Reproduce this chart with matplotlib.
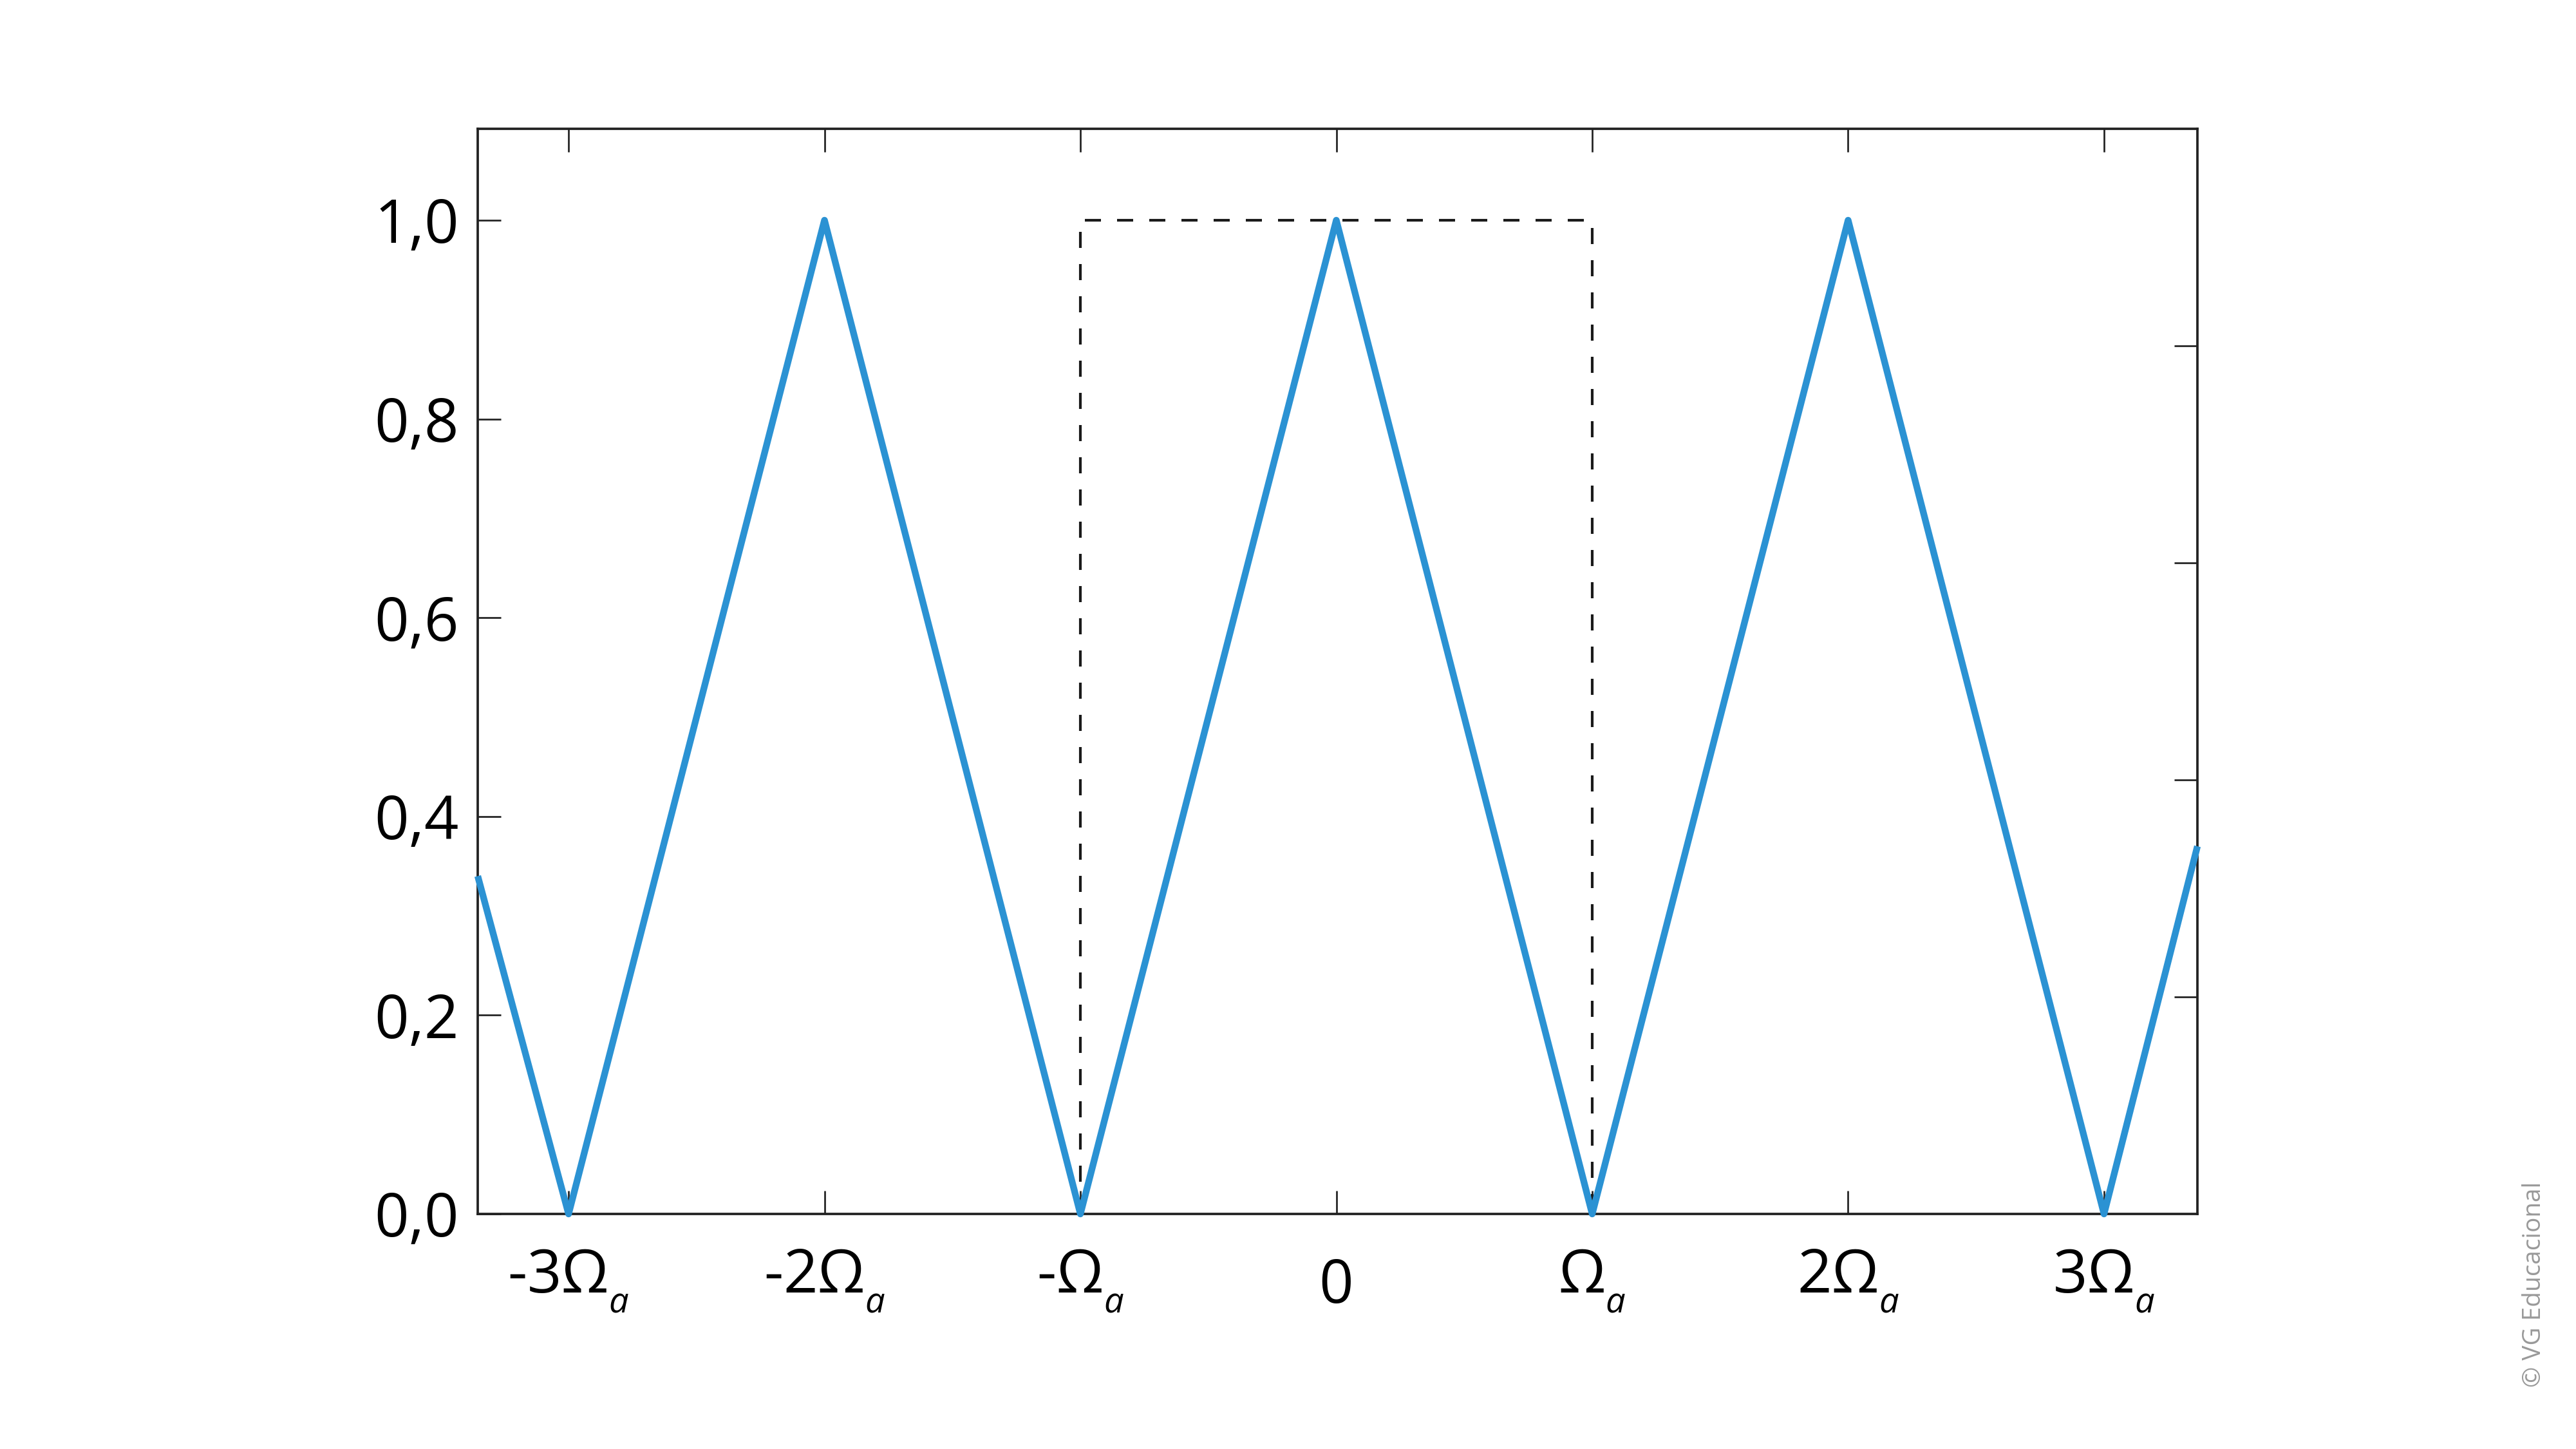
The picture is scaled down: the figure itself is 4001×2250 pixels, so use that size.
import matplotlib
matplotlib.use("Agg")
import matplotlib.pyplot as plt
import matplotlib.transforms as mtransforms
import matplotlib._mathtext as mathtext_interno

plt.rcParams['font.family'] = ['Open Sans', 'DejaVu Sans']
plt.rcParams['mathtext.fontset'] = 'custom'
plt.rcParams['mathtext.rm'] = 'Open Sans'
plt.rcParams['mathtext.it'] = 'Open Sans:italic'
plt.rcParams['mathtext.default'] = 'it'

# subscrito menor e mais baixo, como no original
mathtext_interno.SHRINK_FACTOR = 0.58
mathtext_interno.FontConstantsBase.sub1 = 0.62

# espectro amostrado (triangulos repetidos), em unidades de Omega_a
freq = [-3.355, -3, -2, -1, 0, 1, 2, 3, 3.365]
amp = [0.34, 0, 1, 0, 1, 0, 1, 0, 0.37]

# filtro ideal (tracejado)
filtro_x = [-1, -1, 1, 1]
filtro_y = [0, 1, 1, 0]

xticks = [-3, -2, -1, 0, 1, 2, 3]
xlabels = ['-3Ω$_a$', '-2Ω$_a$', '-Ω$_a$', '0', 'Ω$_a$', '2Ω$_a$', '3Ω$_a$']
yticks = [0.0, 0.2, 0.4, 0.6, 0.8, 1.0]
ylabels = ['0,0', '0,2', '0,4', '0,6', '0,8', '1,0']

fig = plt.figure(figsize=(4001 / 300, 2250 / 300), dpi=300)
ax = fig.add_axes([742 / 4001, 1 - 1885 / 2250, (3413 - 742) / 4001, (1885 - 200) / 2250])

ax.plot(filtro_x, filtro_y, color='#1a1a1a', lw=1.0, linestyle=(0, (6, 6)), zorder=2)
ax.plot(freq, amp, color='#2b92d3', lw=2.5, solid_joinstyle='round',
        solid_capstyle='butt', clip_on=False, zorder=3)

ax.set_xlim(-3.355, 3.365)
ax.set_ylim(0, 1.092)

ax.set_yticks(yticks)
ax.set_yticklabels(ylabels)
ax.set_xticks(xticks)
ax.set_xticklabels(xlabels)

for s in ax.spines.values():
    s.set_linewidth(0.9)
    s.set_color('#222222')

ax.tick_params(axis='both', direction='in', length=8.6, width=0.65,
               color='#222222', labelsize=22.5, labelcolor='black')
ax.tick_params(axis='x', top=True, pad=12.7)
ax.tick_params(axis='y', pad=7)

# o rotulo "0" fica mais baixo que os rotulos com subscrito
off = mtransforms.ScaledTranslation(0, -14 / 300, fig.dpi_scale_trans)
lab0 = ax.xaxis.get_major_ticks()[3].label1
lab0.set_transform(lab0.get_transform() + off)

# marcas do lado direito
ax2 = ax.twinx()
ax2.set_ylim(0, 1)
ax2.set_yticks([0.2, 0.4, 0.6, 0.8])
ax2.set_yticklabels([])
ax2.tick_params(axis='y', direction='in', length=8.6, width=0.65, color='#222222')
for s in ax2.spines.values():
    s.set_visible(False)

fig.text(3936 / 4001, 1 - 1994 / 2250, '© VG Educacional', rotation=90,
         ha='center', va='center', fontsize=9.3, color='#999999')

fig.savefig('out.png', dpi=300)
